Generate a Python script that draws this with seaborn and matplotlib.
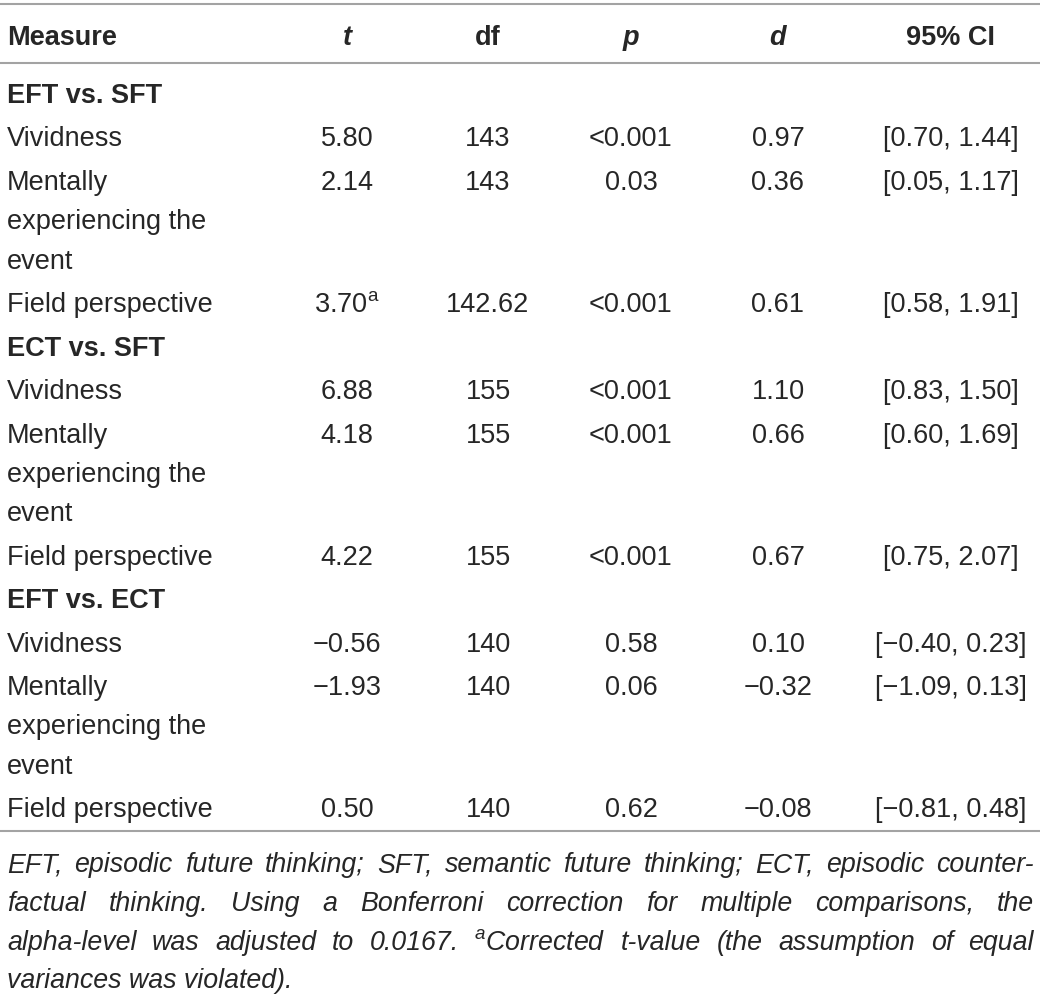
import textwrap

import matplotlib
matplotlib.use("Agg")
import matplotlib.pyplot as plt
import seaborn as sns

sns.set_theme(style="white")
plt.rcParams['font.family'] = ['Liberation Sans', 'DejaVu Sans']
plt.rcParams['mathtext.fontset'] = 'custom'
plt.rcParams['mathtext.rm'] = 'Liberation Sans'
plt.rcParams['mathtext.it'] = 'Liberation Sans:italic'

# table values
headers = ["Measure", "t", "df", "p", "d", "95% CI"]
groups = ["EFT vs. SFT", "ECT vs. SFT", "EFT vs. ECT"]
group_of_row = [0, 0, 0, 1, 1, 1, 2, 2, 2]
measures = ["Vividness", "Mentally experiencing the event", "Field perspective"] * 3
t_vals = [5.80, 2.14, 3.70, 6.88, 4.18, 4.22, -0.56, -1.93, 0.50]
t_flag = [False, False, True, False, False, False, False, False, False]
df_vals = ["143", "143", "142.62", "155", "155", "155", "140", "140", "140"]
p_vals = ["<0.001", "0.03", "<0.001", "<0.001", "<0.001", "<0.001", "0.58", "0.06", "0.62"]
d_vals = [0.97, 0.36, 0.61, 1.10, 0.66, 0.67, 0.10, -0.32, -0.08]
ci_low = [0.70, 0.05, 0.58, 0.83, 0.60, 0.75, -0.40, -1.09, -0.81]
ci_high = [1.44, 1.17, 1.91, 1.50, 1.69, 2.07, 0.23, 0.13, 0.48]

footnote = [
    "EFT, episodic future thinking; SFT, semantic future thinking; ECT, episodic counter-",
    "factual thinking. Using a Bonferroni correction for multiple comparisons, the",
    "alpha-level was adjusted to 0.0167. $^{a}$Corrected t-value (the assumption of equal",
    "variances was violated).",
]

TXT = "#262626"
RULE = "#a3a3a3"
W, H = 1040, 995
FS = 19.5
FN = 19.3
col_x = [7, 347, 488, 631, 778, 951]


def num(v):
    return f"{v:.2f}".replace("-", "\u2212")


fig = plt.figure(figsize=(W / 100, H / 100), dpi=100)
ax = fig.add_axes([0, 0, 1, 1])
ax.set_xlim(0, W)
ax.set_ylim(H, 0)
ax.axis("off")

# header
hdr_base = 45
for i, h in enumerate(headers):
    style = "italic" if h in ("t", "p", "d") else "normal"
    ax.text(col_x[i], hdr_base, h, ha="left" if i == 0 else "center", va="baseline",
            fontsize=FS, fontweight="bold", fontstyle=style, color=TXT)

ax.axhline(5, color=RULE, lw=1.5)
ax.axhline(64, color=RULE, lw=1.5)

row_gap = 43.5
wrap_gap = 39.3
y = 103 - row_gap
last_group = -1
for r in range(len(measures)):
    g = group_of_row[r]
    if g != last_group:
        y += row_gap
        ax.text(col_x[0], y, groups[g], ha="left", va="baseline", fontsize=FS,
                fontweight="bold", color=TXT)
        last_group = g
    y += row_gap
    t_txt = num(t_vals[r]) + (r"$^{\mathregular{a}}$" if t_flag[r] else "")
    cells = [t_txt, df_vals[r], p_vals[r], num(d_vals[r]),
             f"[{num(ci_low[r])}, {num(ci_high[r])}]"]
    for i, c in enumerate(cells):
        ax.text(col_x[i + 1], y, c, ha="center", va="baseline", fontsize=FS, color=TXT)
    lines = textwrap.wrap(measures[r], 17)
    for k, ln in enumerate(lines):
        ax.text(col_x[0], y + k * wrap_gap, ln, ha="left", va="baseline",
                fontsize=FS, color=TXT)
    y += (len(lines) - 1) * wrap_gap

ax.axhline(832, color=RULE, lw=1.5)

# justified footnote
renderer = fig.canvas.get_renderer()
fn_base = [872, 911, 950, 988]
left, right = 7, 1034
for k, ln in enumerate(footnote):
    words = ln.split(" ")
    if k == len(footnote) - 1:
        ax.text(left, fn_base[k], ln, ha="left", va="baseline", fontsize=FN,
                fontstyle="italic", color=TXT)
        continue
    arts = [ax.text(0, fn_base[k], w, ha="left", va="baseline", fontsize=FN,
                    fontstyle="italic", color=TXT) for w in words]
    widths = [a.get_window_extent(renderer).width for a in arts]
    gap = (right - left - sum(widths)) / (len(words) - 1)
    x = left
    for a, wd in zip(arts, widths):
        a.set_x(x)
        x += wd + gap

fig.savefig("out.png", dpi=100, facecolor="white")
